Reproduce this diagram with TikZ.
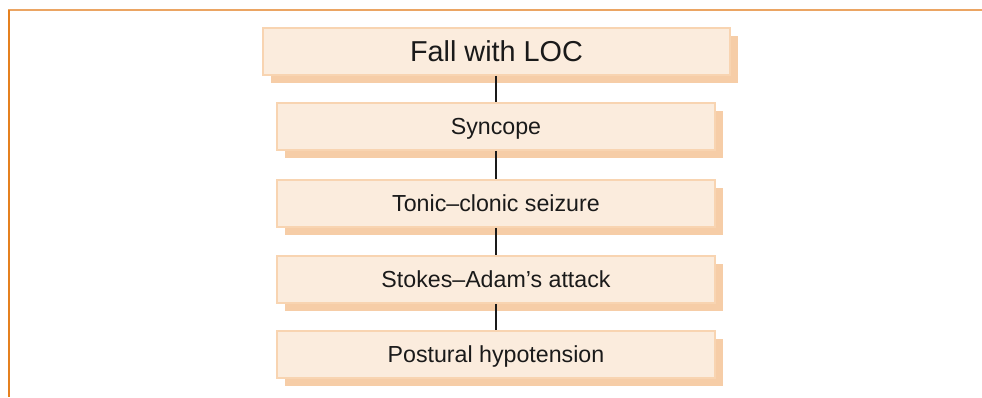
\documentclass[tikz,border=0pt]{standalone}
\usepackage{fontspec}
\setmainfont{Liberation Sans}
\definecolor{boxfill}{HTML}{FBECDD}
\definecolor{boxline}{HTML}{F8D4B1}
\definecolor{shadowc}{HTML}{F6CDA7}
\definecolor{frametop}{HTML}{EBA563}
\definecolor{frameleft}{HTML}{E5801F}
\definecolor{txt}{HTML}{1A1A1A}
\begin{document}
\begin{tikzpicture}[x=1pt,y=-1pt,
  stepbox/.style={draw=boxline, line width=1.5pt, fill=boxfill, text=txt,
    minimum width=438pt, minimum height=47pt, inner sep=0pt,
    text height=16.6pt, text depth=0pt,
    font=\fontsize{23.2}{25}\selectfont},
  topbox/.style={stepbox, minimum width=467pt, text height=20.6pt,
    font=\fontsize{28.8}{30}\selectfont},
  link/.style={draw=txt, line width=1.5pt}]
\useasboundingbox (0,0) rectangle (982,397);
% frame
\draw[frametop, line width=2pt] (8,10) -- (982,10);
\draw[frameleft, line width=2pt] (9,10) -- (9,397);
% shadows
\fill[shadowc] (271,36) rectangle (738,83);
\foreach \y in {126.5,203.5,279.5,354.5}
  \fill[shadowc] (285,\y-15.5) rectangle (723,\y+31.5);
% boxes
\node[topbox] (fall) at (496.5,51.5) {Fall with LOC};
\node[stepbox] (sync) at (496,126.5) {Syncope};
\node[stepbox] (tonic) at (496,203.5) {Tonic–clonic seizure};
\node[stepbox] (stokes) at (496,279.5) {Stokes–Adam’s attack};
\node[stepbox] (post) at (496,354.5) {Postural hypotension};
% connectors
\draw[link] (fall.south -| sync.north) -- (sync.north);
\draw[link] (sync.south) -- (tonic.north);
\draw[link] (tonic.south) -- (stokes.north);
\draw[link] (stokes.south) -- (post.north);
\end{tikzpicture}
\end{document}
